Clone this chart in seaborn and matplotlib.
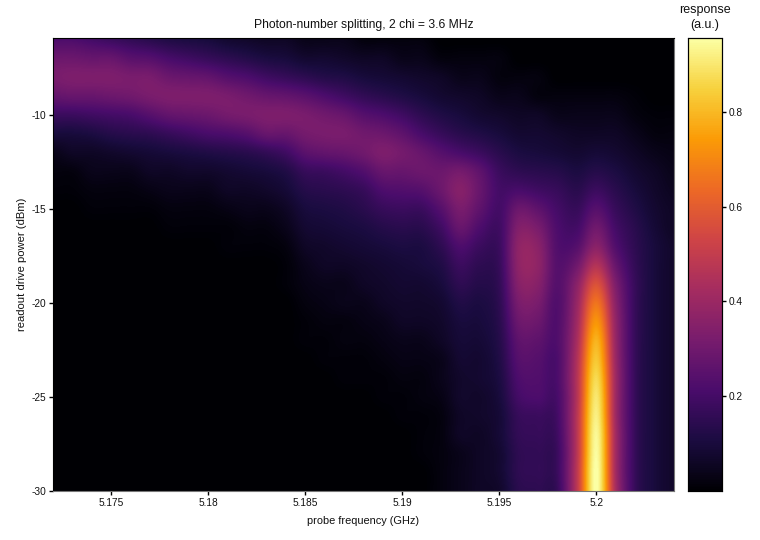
import seaborn as sns
import matplotlib.pyplot as plt
import pandas as pd

# probe frequency of each column (GHz), one column per MHz
probe_ghz = [5.172, 5.173, 5.174, 5.175, 5.176, 5.177, 5.178, 5.179, 5.180, 5.181, 5.182,
             5.183, 5.184, 5.185, 5.186, 5.187, 5.188, 5.189, 5.190, 5.191, 5.192, 5.193,
             5.194, 5.195, 5.196, 5.197, 5.198, 5.199, 5.200, 5.201, 5.202, 5.203, 5.204]
# readout power of each row (dBm)
drive_dbm = [-5, -6, -7, -8, -9, -10, -11, -12, -13, -14, -15, -16, -17,
             -18, -19, -20, -21, -22, -23, -24, -25, -26, -27, -28, -29, -30]

# response, one line per probe frequency, from -5 dBm down to -30 dBm
response = [
    [.12, .22, .29, .32, .27, .18, .10, .04, .02, .01, .00, .00, .00, .00, .00, .00, .00, .00, .00, .00, .00, .00, .00, .00, .00, .00],
    [.12, .22, .29, .33, .28, .18, .10, .06, .02, .01, .00, .00, .00, .00, .00, .00, .00, .00, .00, .00, .00, .00, .00, .00, .00, .00],
    [.10, .20, .28, .33, .28, .19, .11, .06, .04, .02, .01, .00, .00, .00, .00, .00, .00, .00, .00, .00, .00, .00, .00, .00, .00, .00],
    [.09, .18, .28, .33, .29, .20, .13, .07, .04, .02, .01, .00, .00, .00, .00, .00, .00, .00, .00, .00, .00, .00, .00, .00, .00, .00],
    [.08, .16, .25, .32, .30, .21, .14, .08, .04, .02, .01, .00, .00, .00, .00, .00, .00, .00, .00, .00, .00, .00, .00, .00, .00, .00],
    [.07, .14, .24, .32, .32, .24, .15, .09, .06, .03, .01, .00, .00, .00, .00, .00, .00, .00, .00, .00, .00, .00, .00, .00, .00, .00],
    [.06, .12, .21, .29, .33, .27, .17, .10, .06, .04, .02, .01, .00, .00, .00, .00, .00, .00, .00, .00, .00, .00, .00, .00, .00, .00],
    [.06, .11, .19, .28, .33, .28, .19, .11, .07, .04, .02, .01, .00, .00, .00, .00, .00, .00, .00, .00, .00, .00, .00, .00, .00, .00],
    [.04, .10, .17, .27, .33, .29, .21, .12, .07, .04, .02, .01, .00, .00, .00, .00, .00, .00, .00, .00, .00, .00, .00, .00, .00, .00],
    [.04, .08, .15, .24, .32, .31, .22, .13, .08, .06, .03, .01, .01, .00, .00, .00, .00, .00, .00, .00, .00, .00, .00, .00, .00, .00],
    [.02, .07, .13, .22, .30, .32, .24, .14, .09, .06, .04, .02, .01, .00, .00, .00, .00, .00, .00, .00, .00, .00, .00, .00, .00, .00],
    [.02, .06, .11, .19, .28, .33, .28, .16, .10, .07, .04, .02, .01, .00, .00, .00, .00, .00, .00, .00, .00, .00, .00, .00, .00, .00],
    [.02, .06, .10, .17, .27, .33, .28, .19, .12, .09, .06, .04, .02, .01, .01, .00, .00, .00, .00, .00, .00, .00, .00, .00, .00, .00],
    [.02, .04, .08, .15, .25, .32, .31, .25, .17, .13, .10, .08, .06, .04, .03, .02, .01, .01, .00, .00, .00, .00, .00, .00, .00, .00],
    [.02, .04, .08, .13, .22, .30, .32, .27, .18, .14, .11, .09, .07, .06, .04, .03, .02, .01, .01, .00, .00, .00, .00, .00, .00, .00],
    [.02, .04, .07, .12, .19, .28, .32, .28, .20, .15, .12, .10, .08, .06, .04, .04, .02, .02, .01, .01, .00, .00, .00, .00, .00, .00],
    [.00, .02, .06, .10, .16, .24, .30, .30, .23, .17, .14, .11, .09, .07, .06, .04, .03, .02, .01, .01, .00, .00, .00, .00, .00, .00],
    [.00, .02, .06, .09, .14, .22, .29, .33, .28, .22, .17, .13, .10, .08, .07, .06, .04, .03, .02, .01, .01, .00, .00, .00, .00, .00],
    [.00, .02, .04, .08, .12, .19, .26, .31, .28, .23, .18, .14, .11, .09, .08, .07, .06, .04, .03, .02, .01, .01, .00, .00, .00, .00],
    [.00, .02, .04, .07, .10, .15, .21, .28, .29, .24, .18, .14, .11, .10, .08, .07, .06, .04, .03, .02, .02, .01, .01, .01, .00, .00],
    [.00, .00, .02, .06, .08, .12, .17, .24, .29, .29, .24, .19, .15, .12, .10, .08, .07, .06, .04, .04, .03, .02, .02, .02, .02, .02],
    [.00, .00, .02, .04, .07, .10, .14, .21, .31, .35, .32, .28, .22, .18, .15, .12, .10, .09, .08, .07, .07, .06, .06, .04, .04, .04],
    [.00, .00, .02, .04, .06, .08, .12, .18, .26, .28, .26, .22, .18, .15, .13, .11, .10, .09, .08, .08, .07, .07, .06, .06, .06, .06],
    [.00, .00, .02, .02, .04, .07, .10, .14, .18, .20, .20, .19, .18, .17, .16, .15, .14, .13, .12, .11, .10, .09, .09, .08, .08, .07],
    [.00, .00, .00, .02, .04, .06, .08, .11, .15, .21, .29, .34, .37, .37, .35, .32, .29, .26, .24, .22, .20, .17, .16, .15, .15, .14],
    [.00, .00, .00, .02, .02, .06, .08, .10, .14, .19, .26, .32, .36, .37, .35, .32, .29, .26, .24, .23, .22, .18, .17, .16, .16, .15],
    [.00, .00, .00, .00, .02, .04, .07, .09, .13, .17, .20, .22, .23, .24, .24, .23, .23, .23, .22, .22, .21, .20, .19, .18, .18, .17],
    [.00, .00, .00, .00, .02, .04, .06, .08, .11, .14, .17, .20, .24, .30, .36, .39, .41, .43, .45, .46, .46, .47, .47, .47, .48, .48],
    [.00, .00, .00, .00, .02, .04, .06, .09, .13, .18, .24, .30, .36, .46, .57, .66, .73, .79, .83, .87, .90, .92, .94, .95, .96, .96],
    [.00, .00, .00, .00, .02, .04, .06, .08, .11, .14, .17, .20, .23, .28, .33, .36, .38, .39, .40, .41, .41, .41, .42, .42, .42, .43],
    [.00, .00, .00, .00, .01, .02, .04, .06, .08, .10, .12, .14, .15, .16, .17, .17, .17, .17, .17, .17, .17, .17, .17, .17, .17, .17],
    [.00, .00, .00, .00, .00, .01, .02, .04, .06, .07, .08, .09, .10, .10, .10, .10, .10, .10, .10, .10, .10, .10, .10, .10, .10, .10],
    [.00, .00, .00, .00, .00, .01, .02, .03, .04, .05, .06, .06, .07, .07, .07, .07, .07, .07, .07, .07, .07, .07, .07, .07, .07, .07],
]

x_ticks = [5.175, 5.18, 5.185, 5.19, 5.195, 5.2]
x_tick_labels = ['5.175', '5.18', '5.185', '5.19', '5.195', '5.2']
y_ticks = [-10, -15, -20, -25, -30]
y_tick_labels = ['-10', '-15', '-20', '-25', '-30']
cbar_ticks = [0.2, 0.4, 0.6, 0.8]
cbar_tick_labels = ['0.2', '0.4', '0.6', '0.8']
inferno_stops = ['#000004', '#1b0c41', '#4a0c6b', '#781c6d', '#a52c60',
                 '#cf4446', '#ed6925', '#fb9b06', '#f7d13d', '#fcffa4']

sns.set_theme(style="ticks")
plt.rcParams['font.family'] = ['Liberation Sans', 'DejaVu Sans']

df = pd.DataFrame(response, index=probe_ghz, columns=drive_dbm).T

fig = plt.figure(figsize=(7.6, 5.4), dpi=100)
ax = fig.add_axes([53 / 760, 1 - 491 / 540, 621 / 760, 453 / 540])
cax = fig.add_axes([688 / 760, 1 - 491 / 540, 34 / 760, 453 / 540])

cmap = sns.blend_palette(inferno_stops, as_cmap=True)
sns.heatmap(df, ax=ax, cbar_ax=cax, cmap=cmap, vmin=0, vmax=0.956,
            xticklabels=False, yticklabels=False)

# the reference is smoothed between cells, so paint the same cells with catrom resampling
mesh = ax.collections[0]
ax.imshow(df.values, extent=(0, len(probe_ghz), len(drive_dbm), 0), cmap=mesh.cmap, norm=mesh.norm,
          interpolation='catrom', aspect='auto', zorder=2)

# heatmap axes count cells, so turn the data ticks into cell positions
ax.set_xticks([(t - probe_ghz[0]) / 0.001 + 0.5 for t in x_ticks])
ax.set_xticklabels(x_tick_labels)
ax.set_yticks([drive_dbm[0] - t + 0.5 for t in y_ticks])
ax.set_yticklabels(y_tick_labels, rotation=0)
ax.set_xlim(0.5, 32.5)
ax.set_ylim(25.5, 1.4)

ax.tick_params(axis='both', length=3, width=1, color='black', labelsize=7.3, labelcolor='#111111', pad=2)
ax.set_xlabel('probe frequency (GHz)', fontsize=7.9, color='#111111', labelpad=6)
ax.set_ylabel('readout drive power (dBm)', fontsize=8.1, color='#111111', labelpad=3)
ax.set_title('Photon-number splitting, 2 chi = 3.6 MHz', fontsize=8.7, color='#111111', pad=7)
for name, side in ax.spines.items():
    side.set_visible(True)
    side.set_linewidth(0.8)
    side.set_color('#777777' if name in ('bottom', 'right') else 'black')

cax.set_yticks(cbar_ticks)
cax.set_yticklabels(cbar_tick_labels)
cax.tick_params(axis='y', length=3, width=1, color='black', labelsize=7.3, labelcolor='#111111', pad=2)
cax.set_title('response\n(a.u.)', fontsize=9, color='#111111', pad=7, linespacing=1.35)
for side in cax.spines.values():
    side.set_visible(True)
    side.set_linewidth(0.8)
    side.set_color('black')

plt.savefig('out.png', dpi=100)
